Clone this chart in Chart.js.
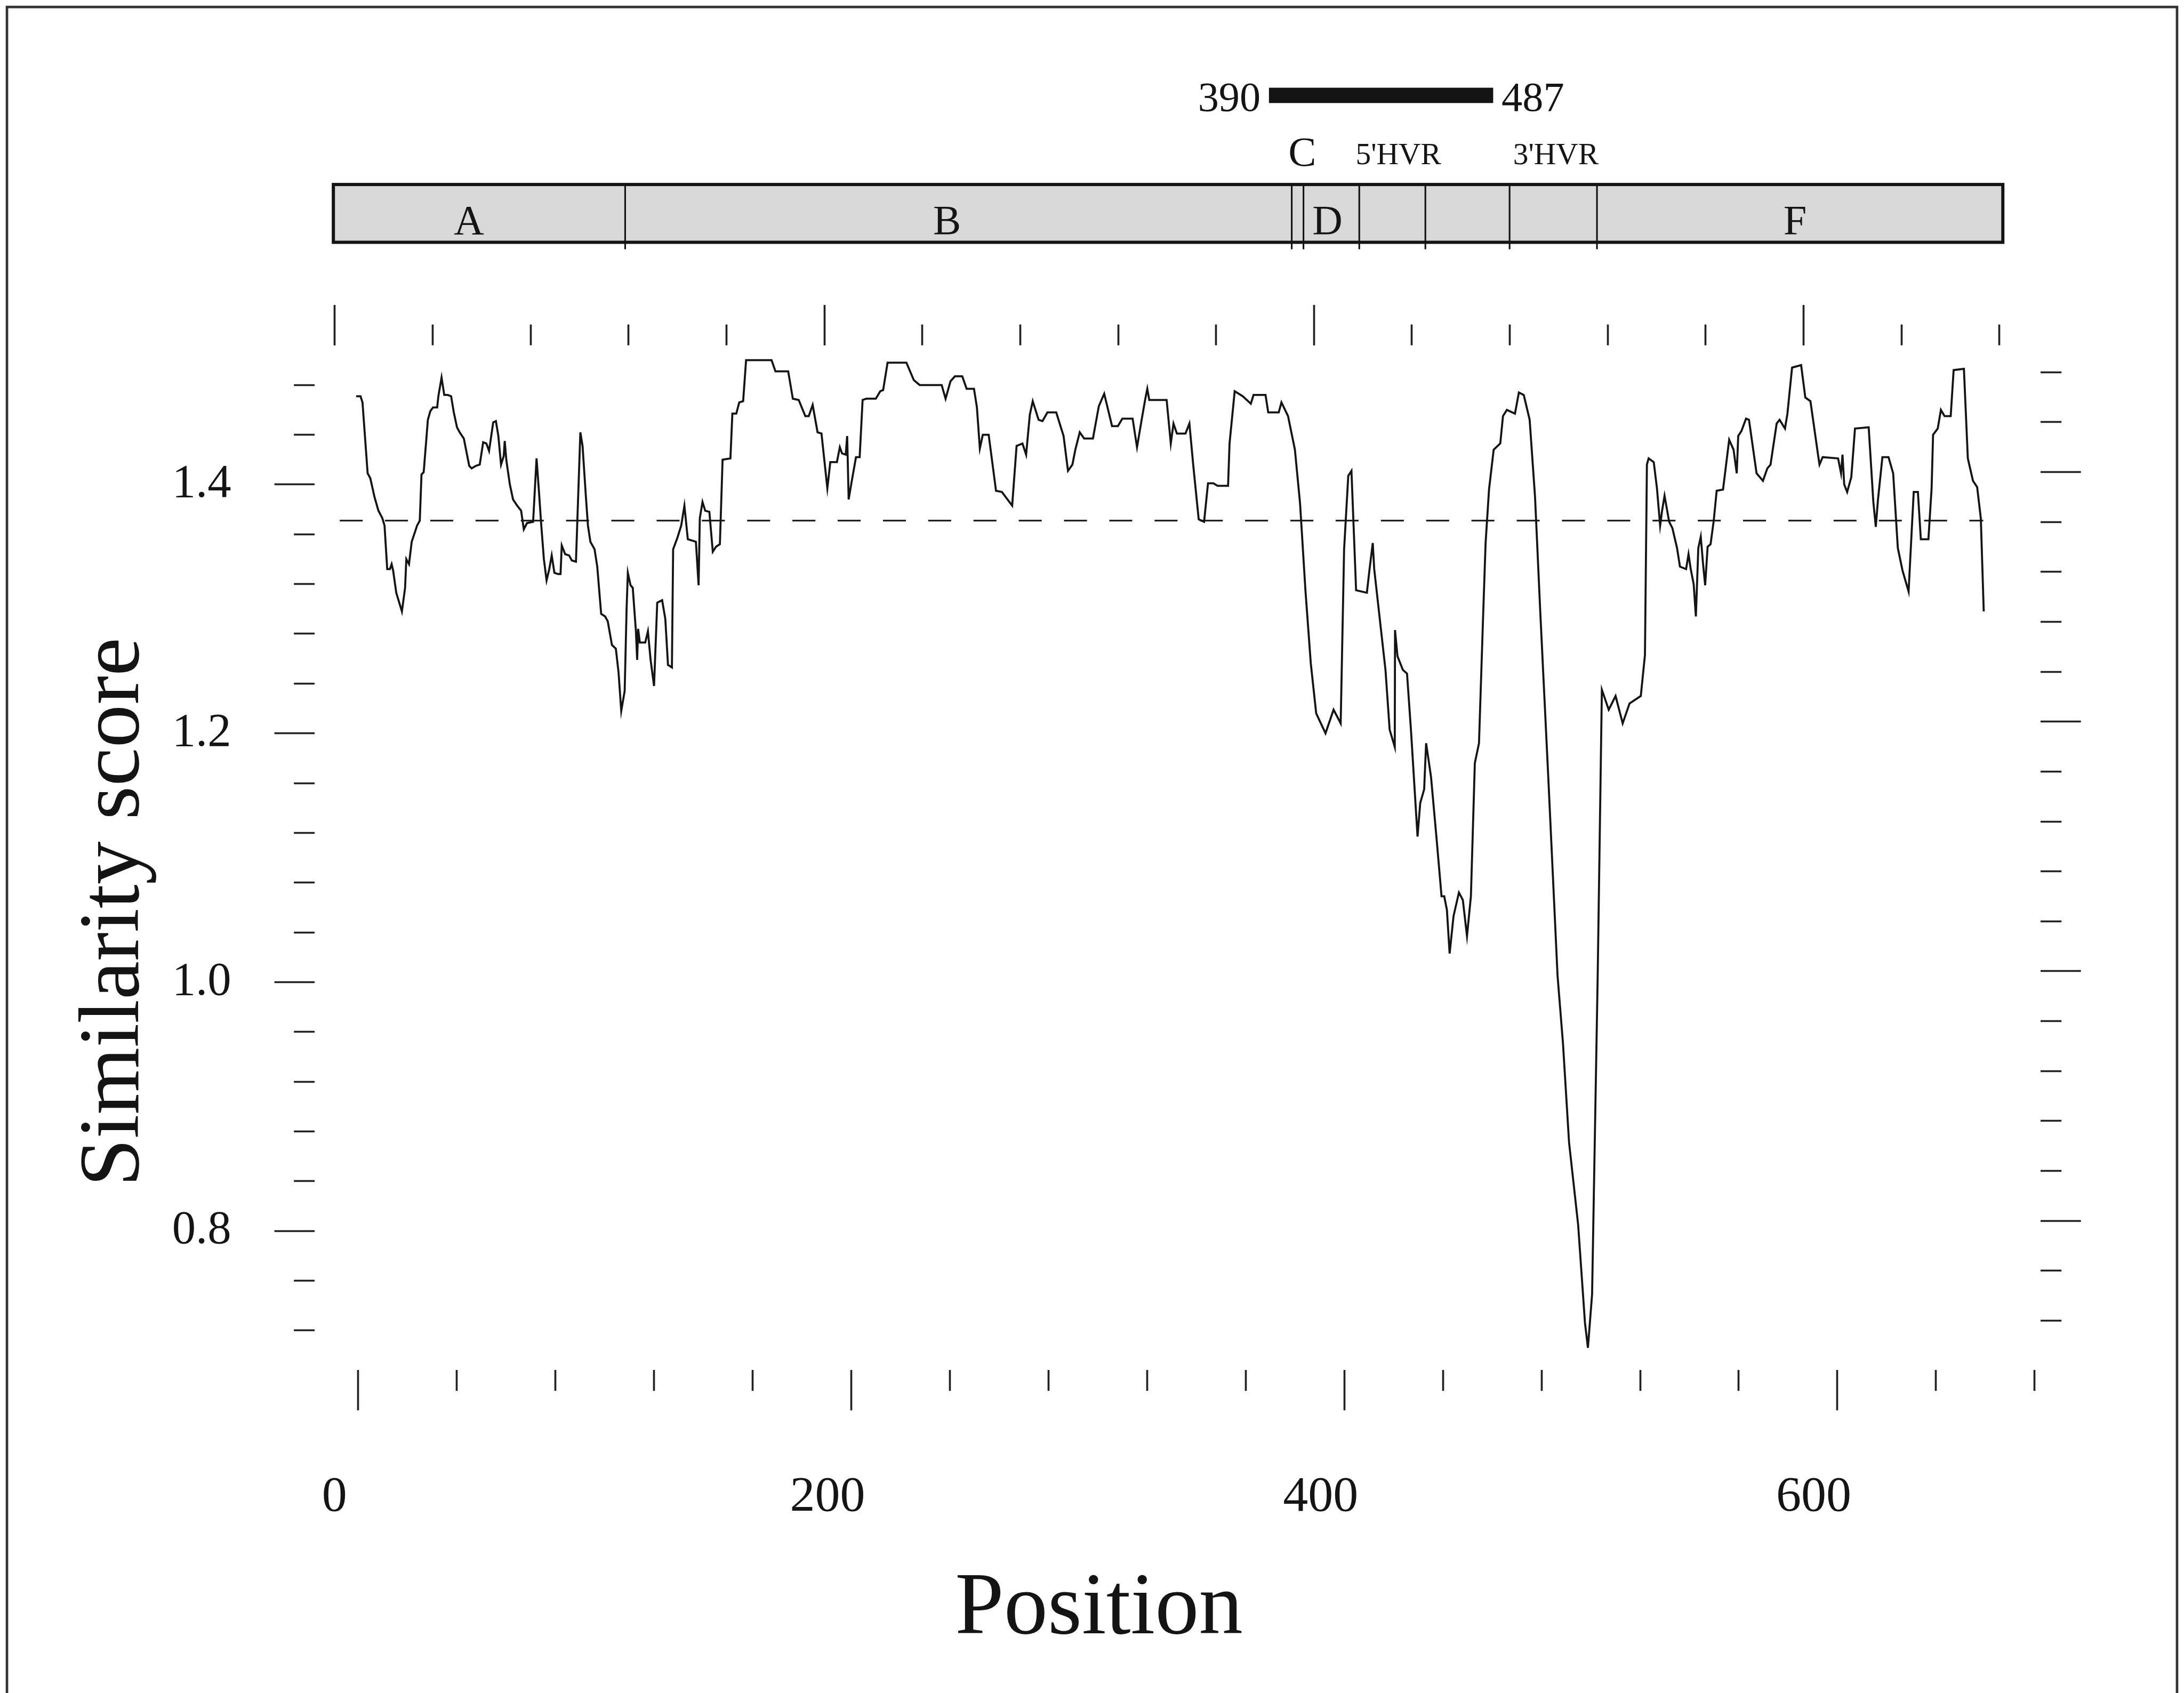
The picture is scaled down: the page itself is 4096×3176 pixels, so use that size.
<!DOCTYPE html>
<html>
<head>
<meta charset="utf-8">
<script src="https://cdn.jsdelivr.net/npm/chart.js@4.4.6/dist/chart.umd.min.js"></script>
<style>
  html, body { margin: 0; padding: 0; background: #fff; }
  #wrap { width: 4096px; height: 3176px; }
</style>
</head>
<body>
<div id="wrap"><canvas id="chart" width="4096" height="3176"></canvas></div>
<script>
// layout was measured on a 1568x1216 copy of the figure; S scales it to the page
const S = 4096 / 1568;
const u = (v) => v * S;
const FONT = "'Liberation Serif', 'Times New Roman', serif";
const INK = '#141414';

/* similarity trace */
const positions = [
  8.7, 10.5, 11.3, 13.4, 14.5, 16.2, 17.8, 19.4, 20.3, 21.4, 22.5, 23.2, 23.8, 25.1, 27.4, 28.7, 29.2, 30.3, 31.4, 33.6,
  34.7, 35.4, 36.3, 37.4, 38.0, 39.0, 40.1, 41.8, 42.3, 43.6, 44.7, 46.1, 47.5, 48.6, 49.9, 51.0, 52.7, 54.9, 55.9, 57.6,
  59.2, 60.6, 61.9, 63.0, 64.7, 65.8, 66.8, 67.9, 69.0, 69.4, 70.1, 71.5, 72.8, 74.5, 76.1, 77.2, 78.5, 81.0, 82.4, 83.4,
  84.3, 85.4, 86.5, 87.6, 88.6, 89.7, 91.2, 92.2, 92.7, 94.1, 95.7, 96.8, 98.5, 99.0, 100.3, 101.2, 102.5, 103.4, 104.4, 106.1,
  107.2, 108.8, 110.4, 111.5, 113.2, 114.8, 115.9, 117.0, 118.4, 119.2, 119.7, 120.8, 121.7, 123.0, 123.5, 123.9, 124.6, 126.8, 127.9, 129.0,
  130.4, 131.7, 133.7, 135.0, 136.1, 137.7, 138.2, 139.9, 141.5, 142.8, 144.2, 145.9, 147.5, 148.6, 149.1, 150.2, 151.3, 153.0, 154.4, 155.7,
  157.3, 158.4, 161.6, 162.4, 164.0, 165.2, 166.8, 168.0, 178.4, 180.0, 185.2, 187.1, 189.5, 192.2, 193.6, 195.2, 197.2, 198.8, 201.2, 202.4,
  205.1, 206.3, 207.2, 208.7, 209.3, 209.9, 211.1, 212.9, 214.4, 215.6, 217.1, 221.0, 222.8, 224.0, 225.8, 233.5, 236.5, 238.9, 247.9, 249.5,
  251.5, 253.3, 256.3, 258.1, 261.1, 262.3, 263.5, 264.7, 267.1, 270.1, 272.5, 276.7, 278.5, 280.9, 282.4, 283.9, 285.1, 287.5, 289.1, 291.1,
  294.7, 297.7, 299.5, 301.3, 302.5, 304.3, 306.1, 309.7, 312.1, 314.3, 317.5, 319.9, 321.7, 325.9, 327.7, 329.5, 331.0, 331.9, 332.7, 339.8,
  341.5, 342.6, 344.0, 347.5, 349.1, 350.7, 352.9, 355.1, 356.7, 358.9, 360.6, 364.9, 365.5, 367.6, 370.9, 374.2, 375.3, 380.2, 381.3, 385.6,
  386.7, 389.4, 392.2, 394.3, 396.5, 398.7, 400.9, 404.7, 408.0, 410.9, 412.3, 414.0, 415.3, 417.2, 421.6, 422.7, 424.0, 424.6, 429.2, 430.9,
  433.0, 433.1, 434.1, 436.3, 438.0, 439.6, 442.3, 443.4, 445.0, 445.8, 447.8, 450.0, 452.1, 453.2, 454.3, 455.4, 457.0, 459.2, 460.8, 462.5,
  464.1, 465.7, 467.4, 469.0, 470.1, 471.5, 473.4, 476.1, 477.2, 478.8, 482.1, 483.7, 485.7, 488.1, 490.3, 492.4, 495.7, 499.5, 501.7, 504.2,
  507.9, 510.7, 511.9, 513.6, 515.9, 517.6, 520.4, 523.2, 526.1, 528.9, 533.5, 535.2, 536.0, 536.7, 538.8, 540.1, 541.4, 542.2, 543.2, 545.1,
  546.4, 548.3, 549.5, 552.0, 553.0, 553.9, 555.1, 556.0, 557.0, 558.0, 558.9, 559.8, 560.8, 562.0, 563.3, 564.5, 567.1, 569.6, 571.4, 572.7,
  573.3, 574.6, 576.5, 577.7, 580.8, 583.4, 585.2, 586.5, 589.0, 590.2, 592.4, 593.4, 595.3, 599.0, 600.7, 602.8, 605.9, 606.5, 607.8, 614.1,
  615.3, 615.9, 616.6, 617.8, 619.5, 621.0, 626.6, 628.5, 629.5, 630.4, 632.2, 634.7, 636.6, 638.5, 640.4, 642.9, 644.2, 645.0, 646.7, 647.9,
  651.0, 652.3, 652.9, 654.8, 656.1, 657.6, 660.1, 661.3, 665.5, 667.1, 669.2, 670.9, 672.4, 673.6
];
const scores = [
  1.471, 1.471, 1.466, 1.409, 1.405, 1.390, 1.379, 1.373, 1.367, 1.332, 1.332, 1.336, 1.331, 1.313, 1.298, 1.317, 1.340, 1.336, 1.354, 1.367,
  1.371, 1.408, 1.410, 1.437, 1.452, 1.459, 1.462, 1.462, 1.471, 1.486, 1.472, 1.472, 1.471, 1.458, 1.446, 1.442, 1.437, 1.415, 1.413, 1.415,
  1.416, 1.434, 1.433, 1.427, 1.450, 1.451, 1.439, 1.416, 1.423, 1.435, 1.419, 1.400, 1.388, 1.383, 1.379, 1.364, 1.369, 1.370, 1.421, 1.394,
  1.368, 1.340, 1.323, 1.332, 1.343, 1.329, 1.328, 1.328, 1.351, 1.344, 1.343, 1.339, 1.338, 1.367, 1.442, 1.431, 1.392, 1.367, 1.354, 1.348,
  1.334, 1.296, 1.294, 1.290, 1.271, 1.268, 1.249, 1.218, 1.234, 1.301, 1.329, 1.319, 1.317, 1.282, 1.259, 1.284, 1.273, 1.273, 1.282, 1.259,
  1.238, 1.305, 1.307, 1.292, 1.255, 1.253, 1.348, 1.357, 1.367, 1.383, 1.356, 1.355, 1.354, 1.319, 1.373, 1.386, 1.379, 1.378, 1.346, 1.350,
  1.352, 1.420, 1.421, 1.457, 1.457, 1.466, 1.467, 1.500, 1.500, 1.491, 1.491, 1.469, 1.468, 1.455, 1.455, 1.464, 1.442, 1.441, 1.397, 1.418,
  1.418, 1.430, 1.425, 1.424, 1.439, 1.388, 1.402, 1.422, 1.422, 1.468, 1.469, 1.469, 1.475, 1.476, 1.498, 1.498, 1.484, 1.480, 1.480, 1.469,
  1.483, 1.487, 1.487, 1.477, 1.477, 1.462, 1.429, 1.440, 1.440, 1.395, 1.394, 1.383, 1.431, 1.433, 1.424, 1.456, 1.467, 1.452, 1.451, 1.458,
  1.458, 1.439, 1.411, 1.416, 1.428, 1.442, 1.437, 1.437, 1.463, 1.473, 1.447, 1.447, 1.453, 1.453, 1.430, 1.451, 1.468, 1.477, 1.468, 1.468,
  1.433, 1.449, 1.441, 1.441, 1.449, 1.415, 1.372, 1.370, 1.401, 1.401, 1.399, 1.399, 1.433, 1.475, 1.471, 1.465, 1.472, 1.472, 1.458, 1.458,
  1.466, 1.455, 1.428, 1.385, 1.315, 1.256, 1.216, 1.200, 1.219, 1.208, 1.348, 1.407, 1.411, 1.315, 1.313, 1.332, 1.353, 1.332, 1.251, 1.203,
  1.189, 1.283, 1.262, 1.251, 1.248, 1.203, 1.117, 1.144, 1.155, 1.192, 1.165, 1.117, 1.069, 1.069, 1.058, 1.023, 1.053, 1.072, 1.066, 1.037,
  1.069, 1.176, 1.192, 1.289, 1.353, 1.396, 1.428, 1.433, 1.455, 1.460, 1.457, 1.474, 1.472, 1.452, 1.390, 1.299, 1.165, 1.005, 0.951, 0.871,
  0.805, 0.726, 0.706, 0.749, 1.006, 1.235, 1.219, 1.230, 1.208, 1.224, 1.230, 1.263, 1.416, 1.421, 1.418, 1.397, 1.367, 1.379, 1.391, 1.370,
  1.365, 1.349, 1.334, 1.332, 1.344, 1.332, 1.320, 1.294, 1.349, 1.358, 1.337, 1.319, 1.350, 1.352, 1.371, 1.395, 1.396, 1.436, 1.428, 1.409,
  1.439, 1.443, 1.453, 1.452, 1.409, 1.403, 1.413, 1.416, 1.449, 1.452, 1.445, 1.457, 1.494, 1.496, 1.470, 1.467, 1.424, 1.416, 1.422, 1.421,
  1.409, 1.424, 1.400, 1.394, 1.406, 1.445, 1.446, 1.386, 1.366, 1.388, 1.422, 1.422, 1.409, 1.349, 1.331, 1.314, 1.364, 1.394, 1.394, 1.356,
  1.356, 1.397, 1.440, 1.445, 1.460, 1.455, 1.455, 1.492, 1.493, 1.421, 1.403, 1.398, 1.373, 1.298
];

/* dashed reference level */
const meanScore = 1.371;
const meanSpan = [2, 673.4];

/* axis ticks */
const xTickValues = [0, 40, 80, 120, 160, 200, 240, 280, 320, 360, 400, 440, 480, 520, 560, 600, 640, 680];
const xLabelValues = [0, 200, 400, 600];
const yTickValues = [0.72, 0.76, 0.80, 0.84, 0.88, 0.92, 0.96, 1.00, 1.04, 1.08,
                     1.12, 1.16, 1.20, 1.24, 1.28, 1.32, 1.36, 1.40, 1.44, 1.48];
const yLabelValues = [0.8, 1.0, 1.2, 1.4];

/* capsid map above the plot (positions on the top axis) */
const domainEdges = [-0.6, 118.6, 390.9, 395.7, 418.5, 445.5, 479.9, 515.6, 681.4];
const domainNames = ['A', 'B', 'D', 'F'];
const domainNamePos = [54.8, 250.1, 405.5, 596.5];
const regionNames = ['C', "5'HVR", "3'HVR"];
const regionNamePos = [395.2, 434.5, 498.8];
const epitopeSpan = [381.6, 473.2];
const epitopeLabels = ['390', '487'];

const TL = u(29);   // major tick length
const ML = u(15);   // minor tick length
const isMajorX = (v) => xLabelValues.includes(v);
const isMajorY = (v) => yLabelValues.some((l) => Math.abs(l - v) < 1e-6);

// ticks run outer->inner on left/top and inner->outer on right/bottom,
// so the dash keeps only the inner part for minor ticks
const dashInnerFirst = [ML, 4000];
const dashOuterFirst = [0, TL - ML, ML, 4000];

function tickGrid(isMajor, dash) {
  return {
    drawOnChartArea: false,
    drawTicks: true,
    tickLength: TL,
    tickWidth: u(1.4),
    tickColor: '#222',
    tickBorderDash: (ctx) => (ctx.tick && isMajor(ctx.tick.value) ? [] : dash)
  };
}

function fixSize(prop, val) {
  return (scale) => {
    scale[prop] = val;
    scale.paddingLeft = scale.paddingRight = scale.paddingTop = scale.paddingBottom = 0;
  };
}

const decor = {
  id: 'decor',
  afterDraw(chart) {
    const { ctx } = chart;
    const px = (p) => chart.scales.xTop.getPixelForValue(p);
    ctx.save();

    // page frame
    ctx.strokeStyle = '#333';
    ctx.lineWidth = u(1.8);
    ctx.beginPath();
    ctx.moveTo(u(5), u(1216));
    ctx.lineTo(u(5), u(5));
    ctx.lineTo(u(1563), u(5));
    ctx.lineTo(u(1563), u(1216));
    ctx.stroke();

    // domain bar
    const x0 = px(domainEdges[0]);
    const x1 = px(domainEdges[domainEdges.length - 1]);
    const top = u(132.5), bot = u(174);
    ctx.fillStyle = '#d8d8d8';
    ctx.fillRect(x0, top, x1 - x0, bot - top);
    ctx.strokeStyle = INK;
    ctx.lineWidth = u(2.3);
    ctx.strokeRect(x0, top, x1 - x0, bot - top);
    ctx.lineWidth = u(1.2);
    for (let i = 1; i < domainEdges.length - 1; i++) {
      const x = px(domainEdges[i]);
      ctx.beginPath();
      ctx.moveTo(x, top);
      ctx.lineTo(x, bot + u(5));
      ctx.stroke();
    }

    ctx.fillStyle = INK;
    ctx.textBaseline = 'alphabetic';
    ctx.textAlign = 'center';
    ctx.font = `${u(30)}px ${FONT}`;
    domainNames.forEach((n, i) => ctx.fillText(n, px(domainNamePos[i]), u(168)));

    // region labels above the bar
    ctx.font = `${u(30)}px ${FONT}`;
    ctx.fillText(regionNames[0], px(regionNamePos[0]), u(119));
    ctx.font = `${u(22)}px ${FONT}`;
    ctx.fillText(regionNames[1], px(regionNamePos[1]), u(118));
    ctx.fillText(regionNames[2], px(regionNamePos[2]), u(118));

    // 390-487 span
    const e0 = px(epitopeSpan[0]), e1 = px(epitopeSpan[1]);
    ctx.fillRect(e0, u(63), e1 - e0, u(11));
    ctx.font = `${u(30)}px ${FONT}`;
    ctx.textAlign = 'right';
    ctx.fillText(epitopeLabels[0], e0 - u(6), u(79.5));
    ctx.textAlign = 'left';
    ctx.fillText(epitopeLabels[1], e1 + u(6), u(79.5));

    // axis titles
    ctx.textAlign = 'center';
    ctx.font = `${u(63)}px ${FONT}`;
    ctx.fillText('Position', u(789), u(1173));
    ctx.translate(u(99), u(655));
    ctx.rotate(-Math.PI / 2);
    ctx.font = `${u(62)}px ${FONT}`;
    ctx.fillText('Similarity score', 0, 0);

    ctx.restore();
  }
};

const config = {
  type: 'line',
  data: {
    datasets: [
      {
        label: 'Similarity score',
        data: positions.map((x, i) => ({ x, y: scores[i] })),
        xAxisID: 'xTop',
        yAxisID: 'y',
        borderColor: INK,
        borderWidth: u(1.45),
        pointRadius: 0,
        tension: 0,
        fill: false
      },
      {
        label: 'reference',
        data: meanSpan.map((x) => ({ x, y: meanScore })),
        xAxisID: 'xTop',
        yAxisID: 'y',
        borderColor: '#222',
        borderWidth: u(1.3),
        borderDash: [u(16.5), u(16)],
        pointRadius: 0,
        fill: false
      }
    ]
  },
  options: {
    responsive: false,
    devicePixelRatio: 1,
    animation: false,
    layout: { padding: 0 },
    plugins: {
      legend: { display: false },
      tooltip: { enabled: false }
    },
    scales: {
      x: {
        type: 'linear',
        position: 'bottom',
        min: -17.57,
        max: 682.4,
        afterBuildTicks: (s) => { s.ticks = xTickValues.map((value) => ({ value })); },
        afterFit: fixSize('height', u(1216 - 984)),
        border: { display: false },
        grid: tickGrid(isMajorX, dashInnerFirst),
        ticks: {
          autoSkip: false,
          maxRotation: 0,
          padding: u(41),
          labelOffset: u(-17),
          color: INK,
          font: { family: FONT, size: u(36) },
          callback: (v) => (isMajorX(v) ? String(v) : '')
        }
      },
      xTop: {
        type: 'linear',
        position: 'top',
        min: -8.19,
        max: 696.8,
        afterBuildTicks: (s) => { s.ticks = xTickValues.map((value) => ({ value })); },
        afterFit: fixSize('height', u(248)),
        border: { display: false },
        grid: tickGrid(isMajorX, dashOuterFirst),
        ticks: { display: false, autoSkip: false }
      },
      y: {
        type: 'linear',
        position: 'left',
        min: 0.6882,
        max: 1.5119,
        afterBuildTicks: (s) => { s.ticks = yTickValues.map((value) => ({ value })); },
        afterFit: fixSize('width', u(226)),
        border: { display: false },
        grid: tickGrid(isMajorY, dashOuterFirst),
        ticks: {
          autoSkip: false,
          padding: u(31),
          color: INK,
          font: { family: FONT, size: u(34) },
          callback: (v) => (isMajorY(v) ? v.toFixed(1) : '')
        }
      },
      yRight: {
        type: 'linear',
        position: 'right',
        min: 0.6805,
        max: 1.5015,
        afterBuildTicks: (s) => { s.ticks = yTickValues.map((value) => ({ value })); },
        afterFit: fixSize('width', u(1568 - 1465)),
        border: { display: false },
        grid: tickGrid(isMajorY, dashInnerFirst),
        ticks: { display: false, autoSkip: false }
      }
    }
  },
  plugins: [decor]
};

new Chart(document.getElementById('chart'), config);
</script>
</body>
</html>
